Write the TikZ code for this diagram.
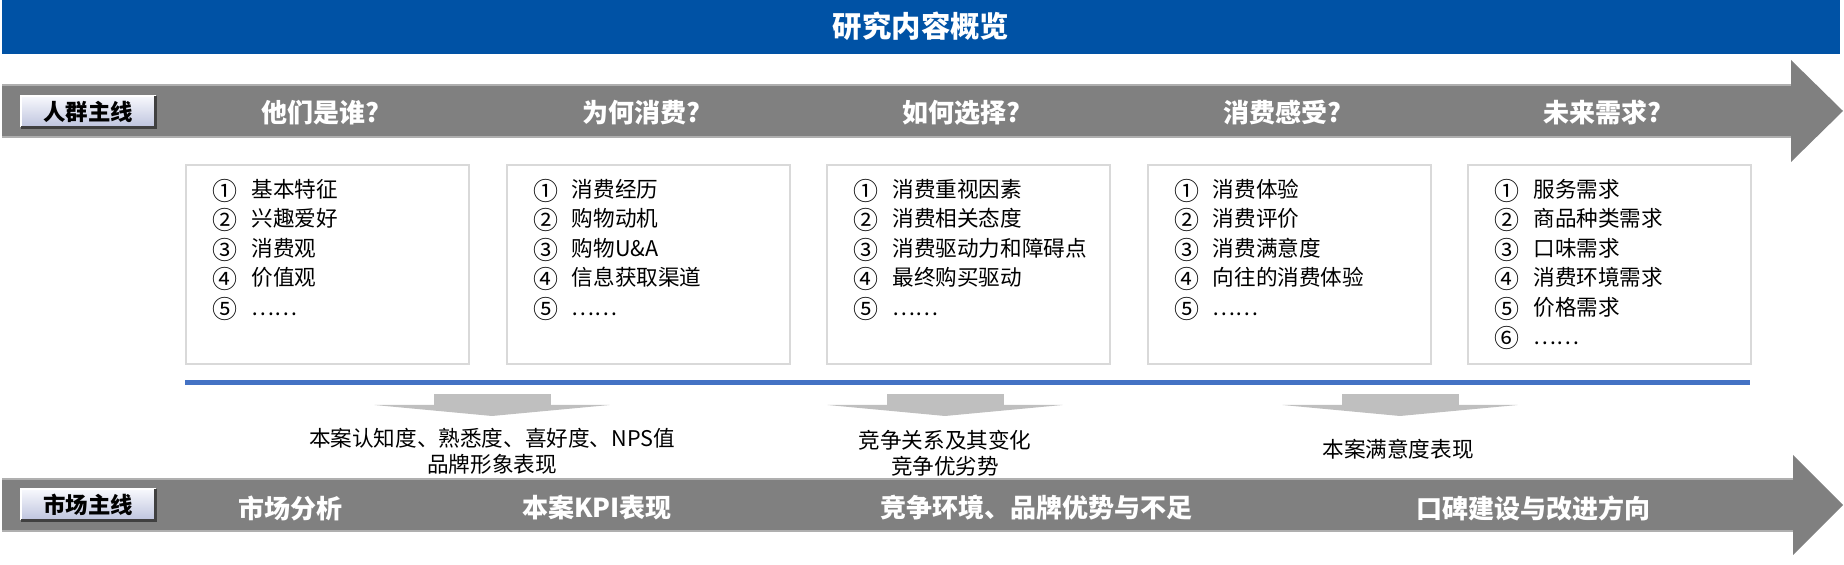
\documentclass[tikz,border=0pt]{standalone}
\usepackage{fontspec}
\setmainfont{Noto Sans CJK SC}
\definecolor{bannerblue}{RGB}{0,82,165}
\definecolor{bandgray}{RGB}{128,128,128}
\definecolor{bandedge}{RGB}{175,175,175}
\definecolor{boxgray}{RGB}{217,217,217}
\definecolor{lineblue}{RGB}{68,114,196}
\definecolor{arrowgray}{RGB}{191,191,191}
\definecolor{btntop}{RGB}{246,247,252}
\definecolor{btnbot}{RGB}{190,196,222}
\begin{document}
\begin{tikzpicture}[x=0.5pt,y=-0.5pt,
  titletext/.style={text=white,font=\fontsize{14.7}{16}\selectfont\bfseries,inner sep=0},
  hdr/.style={text=white,font=\fontsize{13}{15}\selectfont\bfseries,inner sep=0},
  itemnum/.style={anchor=center,font=\fontsize{12.5}{14}\selectfont,inner sep=0},
  itemtext/.style={anchor=west,font=\fontsize{10.8}{12}\selectfont,inner sep=0,text height=0.88em,text depth=0.12em},
  listbox/.style={draw=boxgray,line width=1pt,fill=white,anchor=north west,minimum width=141.5pt,minimum height=99.5pt,inner sep=0},
  btnbox/.style={draw=black!55,line width=0.5pt,top color=btntop,bottom color=btnbot,minimum width=67pt,minimum height=15pt,inner sep=0,font=\fontsize{11.2}{12}\selectfont\bfseries,text=black},
  result/.style={align=center,font=\fontsize{10.8}{13}\selectfont,inner sep=0,text=black},
  bandarrow/.style={fill=bandgray},
  downarrow/.style={fill=arrowgray}
]
\useasboundingbox (0,0) rectangle (1844,565);
% title banner
\fill[bannerblue] (2,0) rectangle (1840,54);
\node[titletext] (title) at (921,26) {研究内容概览};
% top band
\path[bandarrow] (2,85) -- (1791,85) -- (1791,60) -- (1843,111) -- (1791,162) -- (1791,137) -- (2,137) -- cycle;
\draw[bandedge,line width=0.8pt] (2,85) -- (1791,85) (2,137) -- (1791,137);
% bottom band
\path[bandarrow] (2,479) -- (1793,479) -- (1793,455) -- (1843,505) -- (1793,555) -- (1793,531) -- (2,531) -- cycle;
\draw[bandedge,line width=0.8pt] (2,479) -- (1793,479) (2,531) -- (1793,531);
% buttons
\node[btnbox] (btn1) at (88,112) {人群主线};
\draw[white,line width=1pt] (btn1.south west) -- (btn1.north west) -- (btn1.north east);
\draw[black!75,line width=1.2pt] (btn1.north east) -- (btn1.south east) -- (btn1.south west);
\node[btnbox] (btn2) at (88,505) {市场主线};
\draw[white,line width=1pt] (btn2.south west) -- (btn2.north west) -- (btn2.north east);
\draw[black!75,line width=1.2pt] (btn2.north east) -- (btn2.south east) -- (btn2.south west);
% headers
\node[hdr] (h1) at (320.5,113) {他们是谁?};
\node[hdr] (h2) at (641,113) {为何消费?};
\node[hdr] (h3) at (961.5,113) {如何选择?};
\node[hdr] (h4) at (1282,113) {消费感受?};
\node[hdr] (h5) at (1602.5,113) {未来需求?};
% boxes
\node[listbox] (b1) at (185,164) {};
\node[listbox] (b2) at (505.5,164) {};
\node[listbox] (b3) at (826,164) {};
\node[listbox] (b4) at (1146.5,164) {};
\node[listbox] (b5) at (1467,164) {};
% items
\foreach \k/\c/\t in {1/①/基本特征,2/②/兴趣爱好,3/③/消费观,4/④/价值观,5/⑤/……}{
  \node[itemnum] (b1n\k) at (185+40,191+29.4*\k-29.4) {\c};
  \node[itemtext] (b1t\k) at (185+66,190+29.4*\k-29.4) {\t};
}
\foreach \k/\c/\t in {1/①/消费经历,2/②/购物动机,3/③/购物U\&A,4/④/信息获取渠道,5/⑤/……}{
  \node[itemnum] (b2n\k) at (505.5+40,191+29.4*\k-29.4) {\c};
  \node[itemtext] (b2t\k) at (505.5+66,190+29.4*\k-29.4) {\t};
}
\foreach \k/\c/\t in {1/①/消费重视因素,2/②/消费相关态度,3/③/消费驱动力和障碍点,4/④/最终购买驱动,5/⑤/……}{
  \node[itemnum] (b3n\k) at (826+40,191+29.4*\k-29.4) {\c};
  \node[itemtext] (b3t\k) at (826+66,190+29.4*\k-29.4) {\t};
}
\foreach \k/\c/\t in {1/①/消费体验,2/②/消费评价,3/③/消费满意度,4/④/向往的消费体验,5/⑤/……}{
  \node[itemnum] (b4n\k) at (1146.5+40,191+29.4*\k-29.4) {\c};
  \node[itemtext] (b4t\k) at (1146.5+66,190+29.4*\k-29.4) {\t};
}
\foreach \k/\c/\t in {1/①/服务需求,2/②/商品种类需求,3/③/口味需求,4/④/消费环境需求,5/⑤/价格需求,6/⑥/……}{
  \node[itemnum] (b5n\k) at (1467+40,191+29.4*\k-29.4) {\c};
  \node[itemtext] (b5t\k) at (1467+66,190+29.4*\k-29.4) {\t};
}
% blue line
\draw[lineblue,line width=2.5pt] (185,382.5) -- (1750,382.5);
% down arrows
\foreach \cx in {492,945,1400}{
  \fill[downarrow] (\cx-58.5,394) rectangle (\cx+58.5,405.5);
  \fill[downarrow] (\cx-117.5,405) -- (\cx+117.5,405) -- (\cx,416) -- cycle;
}
% results
\node[result] (r1) at (492,451) {本案认知度、熟悉度、喜好度、NPS值\\品牌形象表现};
\node[result] (r2) at (945,453) {竞争关系及其变化\\竞争优劣势};
\node[result] (r3) at (1398,449) {本案满意度表现};
% bottom labels
\node[hdr] (m1) at (290,508) {市场分析};
\node[hdr] (m2) at (597,508) {本案KPI表现};
\node[hdr] (m3) at (1036,508) {竞争环境、品牌优势与不足};
\node[hdr] (m4) at (1533,508) {口碑建设与改进方向};
\end{tikzpicture}
\end{document}
